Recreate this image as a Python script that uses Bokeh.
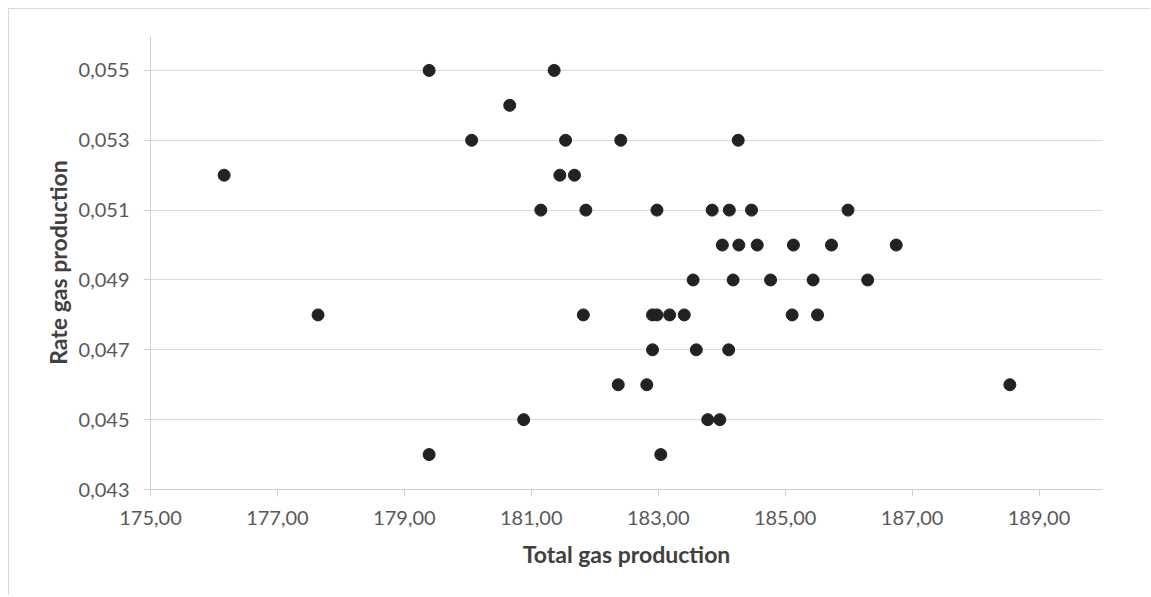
from bokeh.plotting import figure
from bokeh.models import Range1d, FixedTicker, CustomJSTickFormatter, ColumnDataSource
from bokeh.embed import file_html
from bokeh.resources import INLINE

# Data
total_gas = [176.16, 177.64, 179.39, 179.39, 180.06, 180.66, 180.88, 181.15, 181.36,
             181.45, 181.54, 181.68, 181.82, 181.86, 182.37, 182.41, 182.82, 182.91,
             182.98, 182.91, 182.98, 183.04, 183.18, 183.41, 183.55, 183.60, 183.78,
             183.85, 183.97, 184.01, 184.11, 184.12, 184.18, 184.26, 184.27, 184.47,
             184.56, 184.77, 185.11, 185.13, 185.44, 185.51, 185.73, 185.99, 186.30,
             186.75, 188.54]
rate_gas = [0.052, 0.048, 0.055, 0.044, 0.053, 0.054, 0.045, 0.051, 0.055,
            0.052, 0.053, 0.052, 0.048, 0.051, 0.046, 0.053, 0.046, 0.048,
            0.048, 0.047, 0.051, 0.044, 0.048, 0.048, 0.049, 0.047, 0.045,
            0.051, 0.045, 0.050, 0.047, 0.051, 0.049, 0.053, 0.050, 0.051,
            0.050, 0.049, 0.048, 0.050, 0.049, 0.048, 0.050, 0.051, 0.049,
            0.050, 0.046]
x_ticks = [175, 177, 179, 181, 183, 185, 187, 189]
y_ticks = [0.043, 0.045, 0.047, 0.049, 0.051, 0.053, 0.055]
x_title = "Total gas production"
y_title = "Rate gas production"

src = ColumnDataSource(dict(x=total_gas, y=rate_gas))

p = figure(width=1142, height=587, output_backend="svg", toolbar_location=None,
           x_range=Range1d(175, 190), y_range=Range1d(0.043, 0.056),
           min_border_left=141, min_border_top=26, min_border_right=49,
           min_border_bottom=107)
p.styles = {"margin-left": "8px", "margin-top": "8px",
            "border-top": "1px solid #d9d9d9", "border-left": "1px solid #d9d9d9"}
p.outline_line_color = None
p.background_fill_color = "white"
p.border_fill_color = "white"

p.scatter("x", "y", source=src, size=12, fill_color="#222222", line_color="#222222")

p.xaxis.ticker = FixedTicker(ticks=x_ticks)
p.yaxis.ticker = FixedTicker(ticks=y_ticks)
p.xaxis.formatter = CustomJSTickFormatter(code="return tick.toFixed(2).replace('.', ',');")
p.yaxis.formatter = CustomJSTickFormatter(code="return tick.toFixed(3).replace('.', ',');")

for ax in (p.xaxis, p.yaxis):
    ax.axis_line_color = "#d0d0d0"
    ax.axis_line_width = 1
    ax.major_tick_line_color = "#d0d0d0"
    ax.major_tick_out = 7
    ax.major_tick_in = 0
    ax.minor_tick_line_color = None
    ax.major_label_text_font = "Lato"
    ax.major_label_text_font_size = "20px"
    ax.major_label_text_color = "#595959"
    ax.axis_label_text_font = "Lato"
    ax.axis_label_text_font_style = "bold"
    ax.axis_label_text_font_size = "23px"
    ax.axis_label_text_color = "#404040"

p.xaxis.axis_label = x_title
p.yaxis.axis_label = y_title
p.yaxis.major_label_standoff = 14
p.xaxis.major_label_standoff = 14
p.yaxis.axis_label_standoff = 4
p.xaxis.axis_label_standoff = 12

p.xgrid.grid_line_color = None
p.ygrid.grid_line_color = "#d9d9d9"
p.ygrid.grid_line_width = 1

open("out.html", "w").write(file_html(p, INLINE))
